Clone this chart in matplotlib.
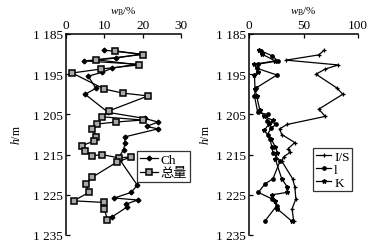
import matplotlib
matplotlib.use("Agg")
import matplotlib.pyplot as plt

plt.rcParams['font.family'] = ['Liberation Serif', 'Noto Sans CJK SC', 'DejaVu Sans']
plt.rcParams['mathtext.fontset'] = 'custom'
plt.rcParams['mathtext.it'] = 'Liberation Serif:italic'
plt.rcParams['mathtext.rm'] = 'Liberation Serif'

# ---------------- data ----------------
depth_ticks = [1185, 1195, 1205, 1215, 1225, 1235]
depth_labels = ["1 185", "1 195", "1 205", "1 215", "1 225", "1 235"]

# left panel
ch_depth = [1189.0, 1190.0, 1191.0, 1191.7, 1192.5, 1193.5, 1194.5, 1195.5, 1198.5, 1200.0,
            1204.5, 1206.0, 1206.9, 1208.0, 1208.6, 1210.6, 1212.2, 1213.8, 1215.8,
            1222.6, 1224.4, 1225.8, 1226.3, 1227.3, 1228.0, 1230.5, 1231.0]
ch_val = [9.8, 19.5, 13.0, 4.7, 18.5, 12.0, 9.5, 5.8, 7.8, 5.0,
          11.0, 20.5, 24.0, 21.0, 24.0, 15.3, 15.4, 15.0, 13.7,
          18.6, 17.0, 12.6, 18.7, 15.7, 16.0, 12.0, 10.5]

tot_depth = [1189.2, 1190.1, 1191.4, 1192.7, 1193.7, 1194.7, 1198.7, 1199.7, 1200.4,
             1204.1, 1205.6, 1206.4, 1206.9, 1207.4, 1208.6, 1210.6, 1211.6, 1212.8, 1214.0,
             1215.3, 1215.0, 1215.8, 1215.6, 1216.8, 1220.6, 1222.3, 1224.4, 1226.5,
             1226.9, 1228.5, 1231.2]
tot_val = [12.9, 20.0, 7.9, 19.0, 9.2, 1.6, 10.0, 14.8, 21.4,
           11.3, 9.5, 20.0, 13.0, 8.0, 6.8, 7.9, 7.4, 4.1, 5.0,
           6.9, 9.4, 13.7, 17.0, 13.4, 6.9, 5.2, 6.0, 2.0,
           10.0, 10.0, 10.8]

# right panel
is_depth = [1189.0, 1190.2, 1191.5, 1192.7, 1193.7, 1195.0, 1198.5, 1200.0, 1203.7, 1205.5,
            1207.5, 1208.6, 1210.0, 1212.0, 1213.5, 1214.4, 1215.5, 1216.6, 1221.0, 1223.0,
            1226.0, 1228.5, 1231.5]
is_val = [69, 64, 34, 82, 70, 61.5, 81, 86, 64, 70,
          35, 28, 30, 42, 36, 38, 32, 30, 40, 42,
          43, 39.5, 41]

i_depth = [1189.2, 1190.4, 1191.7, 1192.5, 1193.5, 1195.2, 1198.5, 1200.4, 1204.5, 1205.0,
           1206.6, 1207.4, 1208.5, 1210.0, 1211.0, 1213.0, 1214.5, 1216.6, 1221.0, 1222.3,
           1224.4, 1226.0, 1227.7, 1231.5]
i_val = [11, 21, 26.6, 8.3, 7, 25.6, 6, 5, 8, 17,
         16.5, 25, 20, 17, 19, 21, 22, 28.5, 22, 14.7,
         8.5, 21, 25.5, 14.7]

k_depth = [1189.0, 1190.0, 1191.7, 1192.5, 1194.5, 1195.2, 1198.7, 1200.4, 1204.0, 1205.5,
           1206.5, 1207.5, 1209.0, 1211.0, 1213.0, 1214.5, 1216.0, 1221.0, 1223.0, 1224.4,
           1225.0, 1226.5, 1228.5, 1231.5]
k_val = [9, 12, 24, 5, 8, 5, 5.5, 7, 10, 14,
         22, 18, 14, 20, 24, 26, 24, 30, 35, 35,
         21, 24, 26, 39]

# ---------------- figure ----------------
W, H = 376, 253
fig = plt.figure(figsize=(W / 100, H / 100), dpi=100)


def make_ax(x0, x1, y0, y1):
    return fig.add_axes([x0 / W, 1 - y1 / H, (x1 - x0) / W, (y1 - y0) / H])


axL = make_ax(66, 181, 35, 236)
axR = make_ax(249, 358, 35, 236)

for ax in (axL, axR):
    ax.set_ylim(1235, 1185)
    ax.set_yticks(depth_ticks)
    ax.set_yticklabels(depth_labels)
    ax.xaxis.tick_top()
    ax.xaxis.set_label_position('top')
    for s in ('right', 'bottom'):
        ax.spines[s].set_visible(False)
    for s in ('left', 'top'):
        ax.spines[s].set_linewidth(1.1)
    ax.tick_params(direction='in', length=3, width=0.9, labelsize=9.5, pad=2)
    ax.set_xlabel(r"$w_\mathrm{B}$/%", fontsize=8, labelpad=4)

axL.set_ylabel(r"$h$/m", fontsize=8.5, labelpad=7)
axR.set_ylabel(r"$h$/m", fontsize=8.5, labelpad=3)

axL.set_xlim(0, 30)
axL.set_xticks([0, 10, 20, 30])
axR.set_xlim(0, 100)
axR.set_xticks([0, 50, 100])

axL.plot(ch_val, ch_depth, color='black', lw=0.9, marker='D', ms=2.4, label='Ch')
axL.plot(tot_val, tot_depth, color='black', lw=0.9, marker='s', ms=5.0,
         mfc='#a8a8a8', mec='black', mew=1.1, label='总量')

axR.plot(is_val, is_depth, color='black', lw=0.9, marker='+', ms=2.8, mew=0.9, label='I/S')
axR.plot(i_val, i_depth, color='black', lw=0.9, marker='o', ms=2.4, label='l')
axR.plot(k_val, k_depth, color='black', lw=0.9, marker='*', ms=3.2, label='K')

legL = axL.legend(loc='upper left', bbox_to_anchor=((137 - 66) / 115, 1 - (152 - 35) / 201),
                  fontsize=9.5, frameon=True, fancybox=False, edgecolor='black',
                  handlelength=1.4, handletextpad=0.2, borderpad=0.2, labelspacing=0.1,
                  borderaxespad=0)
legL.get_frame().set_linewidth(0.9)
legR = axR.legend(loc='upper left', bbox_to_anchor=((313 - 249) / 109, 1 - (149 - 35) / 201),
                  fontsize=9.5, frameon=True, fancybox=False, edgecolor='black',
                  handlelength=1.2, handletextpad=0.2, borderpad=0.2, labelspacing=0.05,
                  borderaxespad=0)
legR.get_frame().set_linewidth(0.9)

fig.savefig('out.png', dpi=100)
